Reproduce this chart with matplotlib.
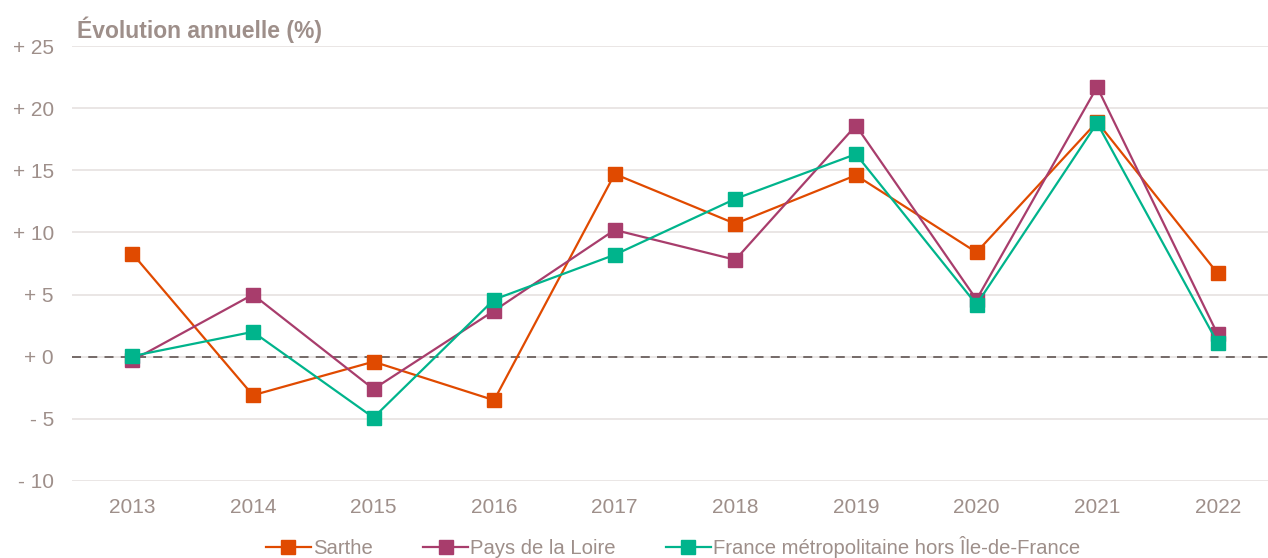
import matplotlib.pyplot as plt

years = [2013, 2014, 2015, 2016, 2017, 2018, 2019, 2020, 2021, 2022]
sarthe = [8.3, -3.1, -0.4, -3.5, 14.7, 10.7, 14.6, 8.4, 18.9, 6.7]
pays_loire = [-0.3, 5.0, -2.6, 3.7, 10.2, 7.8, 18.6, 4.6, 21.7, 1.8]
france = [0.05, 2.0, -4.9, 4.6, 8.2, 12.7, 16.3, 4.2, 18.8, 1.1]
yticks = [-10, -5, 0, 5, 10, 15, 20, 25]

text_col = '#9E8F8A'
plt.rcParams['font.family'] = ['Liberation Sans', 'DejaVu Sans']

fig = plt.figure(figsize=(12.68, 5.58), dpi=100)
ax = fig.add_axes([72/1268, 1-481/558, 1206/1268, 435/558])

series = [
    (sarthe, '#E04A00', 'Sarthe'),
    (pays_loire, '#A83D6C', 'Pays de la Loire'),
    (france, '#00B48C', 'France métropolitaine hors Île-de-France'),
]
for vals, col, lab in series:
    ax.plot(years, vals, color=col, lw=1.6, marker='s', markersize=10.5,
            markeredgecolor=col, label=lab, zorder=3)

ax.set_xlim(2012.5, 2022.5)
ax.set_ylim(-10, 25)
ax.set_yticks(yticks)
ax.set_yticklabels([('+ ' if v >= 0 else '- ') + str(abs(v)) for v in yticks])
ax.set_xticks(years)
ax.grid(axis='y', color='#E6E1E0', lw=1.2, zorder=0)
ax.axhline(0, color='#6B615E', lw=1.3, ls=(0, (5, 4)), zorder=2)
for s in ax.spines.values():
    s.set_visible(False)
ax.tick_params(length=0, labelsize=15, colors=text_col)
ax.tick_params(axis='x', pad=12)
ax.tick_params(axis='y', pad=13)

fig.text(77/1268, 1-30/558, 'Évolution annuelle (%)', fontsize=16.5, fontweight='bold',
         color=text_col, va='center', ha='left')

leg = fig.legend(loc='center', bbox_to_anchor=(673/1268, 1-547/558), ncol=3,
                 frameon=False, fontsize=14.6, handlelength=2.2, handletextpad=0.1,
                 columnspacing=2.5, labelcolor=text_col)

fig.savefig('out.png', dpi=100)
